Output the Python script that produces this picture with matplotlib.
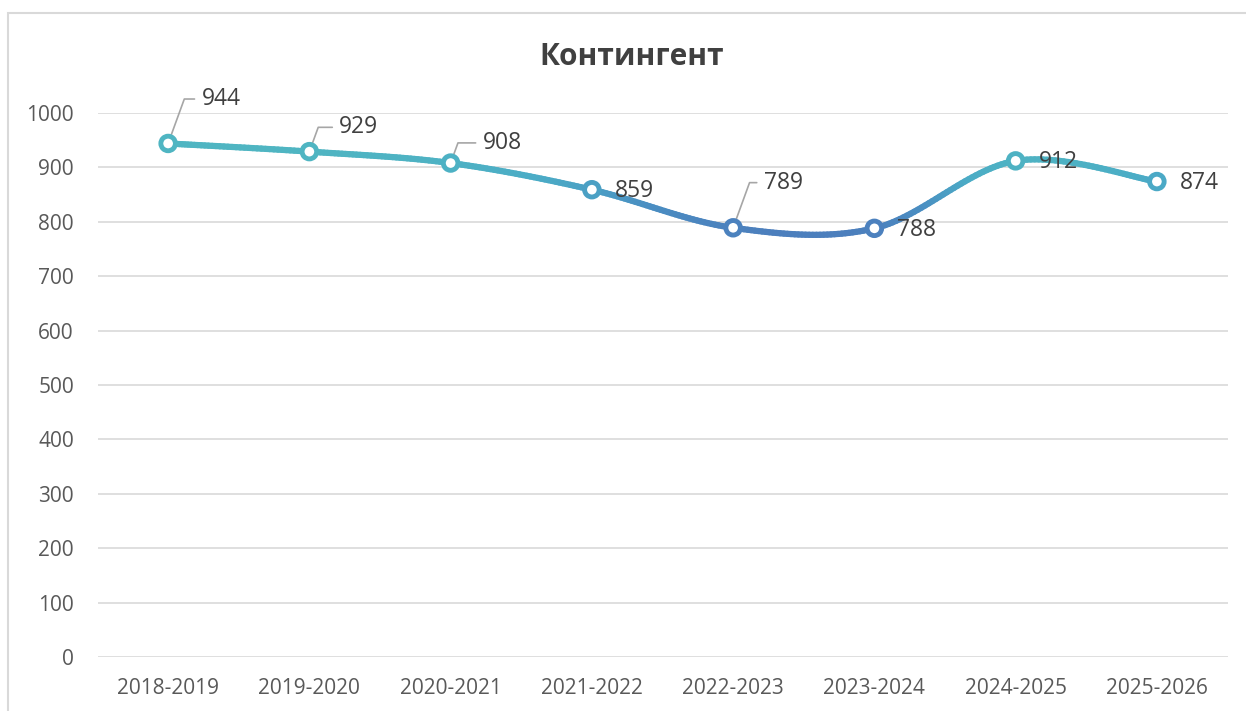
import numpy as np
import matplotlib.pyplot as plt
from matplotlib.collections import LineCollection
from matplotlib.colors import LinearSegmentedColormap
from matplotlib.patches import Rectangle

years = ['2018-2019', '2019-2020', '2020-2021', '2021-2022',
         '2022-2023', '2023-2024', '2024-2025', '2025-2026']
values = [944, 929, 908, 859, 789, 788, 912, 874]

# label placement (points from the marker); leader line drawn when set
label_offsets = [(24, 32), (21.5, 17.5), (23, 14.5), (16.5, -1),
                 (22, 32.5), (16.5, -1), (16.5, -1), (16.5, -1)]
leader = [True, True, True, False, True, False, False, False]

plt.rcParams['font.family'] = ['Open Sans', 'DejaVu Sans']


def smooth(x, y, steps=40):
    # bezier smoothing like the office chart (catmull-rom control points)
    x = np.asarray(x, float)
    y = np.asarray(y, float)
    px = np.concatenate([[x[0]], x, [x[-1]]])
    py = np.concatenate([[y[0]], y, [y[-1]]])
    xs, ys = [], []
    t = np.linspace(0, 1, steps)
    for i in range(1, len(px) - 2):
        p0 = np.array([px[i], py[i]])
        p3 = np.array([px[i + 1], py[i + 1]])
        p1 = p0 + (np.array([px[i + 1], py[i + 1]]) - np.array([px[i - 1], py[i - 1]])) / 6
        p2 = p3 - (np.array([px[i + 2], py[i + 2]]) - np.array([px[i], py[i]])) / 6
        pts = ((1 - t) ** 3)[:, None] * p0 + (3 * (1 - t) ** 2 * t)[:, None] * p1 \
            + (3 * (1 - t) * t ** 2)[:, None] * p2 + (t ** 3)[:, None] * p3
        xs.extend(pts[:, 0])
        ys.extend(pts[:, 1])
    return np.array(xs), np.array(ys)


fig = plt.figure(figsize=(12.46, 7.11), dpi=100)
ax = fig.add_axes([97.5 / 1246, 1 - 657 / 711, 1130 / 1246, 544 / 711])

fig.patches.append(Rectangle((8 / 1246, -0.1), 1.2, 1 - 13 / 711 + 0.1,
                             transform=fig.transFigure, fill=False,
                             edgecolor='#d9d9d9', linewidth=1.5))

x = np.arange(len(years))
sx, sy = smooth(x, values)

cmap = LinearSegmentedColormap.from_list('g', ['#4c7fbd', '#4a8fc2', '#4bacc6', '#4fb5c2'])
pts = np.column_stack([sx, sy]).reshape(-1, 1, 2)
segs = np.concatenate([pts[:-1], pts[1:]], axis=1)
norm = plt.Normalize(780, 930)
lc = LineCollection(segs, cmap=cmap, norm=norm, linewidth=4.5, capstyle='round', zorder=3)
lc.set_array((sy[:-1] + sy[1:]) / 2)
ax.add_collection(lc)

ax.scatter(x, values, s=110, facecolor='white', edgecolor=cmap(norm(np.array(values))),
           linewidth=3.5, zorder=4)

for xi, v, off, ld in zip(x, values, label_offsets, leader):
    arrow = None
    if ld:
        arrow = dict(arrowstyle='-', color='#a6a6a6', lw=1.2, shrinkA=3, shrinkB=0,
                     connectionstyle='angle,angleA=0,angleB=70,rad=0')
    ax.annotate(str(v), xy=(xi, v), xytext=off, textcoords='offset points',
                fontsize=16.5, color='#404040', va='center', ha='left',
                arrowprops=arrow)

ax.set_xlim(-0.5, len(years) - 0.5)
ax.set_ylim(0, 1000)
ax.set_yticks(range(0, 1001, 100))
ax.set_xticks(x)
ax.set_xticklabels(years)
ax.grid(axis='y', color='#d9d9d9', linewidth=1.2)
ax.set_axisbelow(True)
for s in ax.spines.values():
    s.set_visible(False)
ax.tick_params(length=0, labelsize=15, colors='#595959')
ax.tick_params(axis='y', pad=17)
ax.tick_params(axis='x', pad=15)

fig.text(632 / 1246, 1 - 57 / 711, 'Контингент', ha='center', va='center',
         fontsize=21.5, fontweight='bold', color='#404040')

plt.savefig('out.png', dpi=100)
